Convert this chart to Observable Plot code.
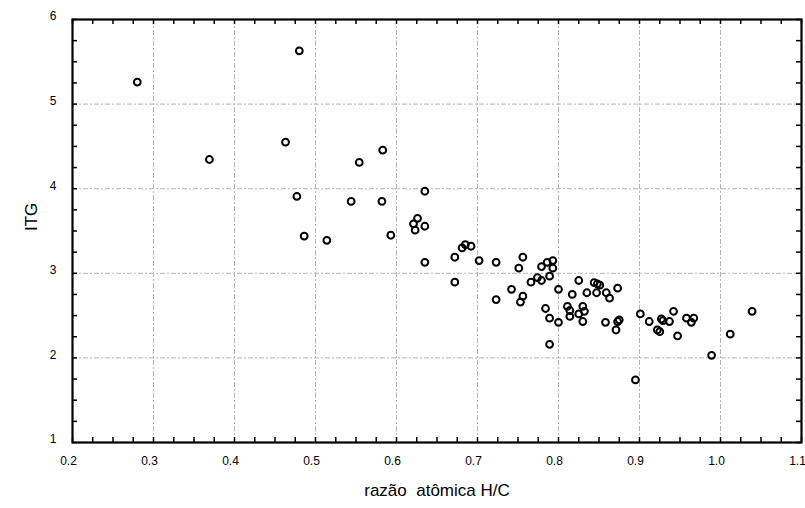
<!DOCTYPE html>
<html>
<head>
<meta charset="utf-8">
<script src="https://cdn.jsdelivr.net/npm/d3@7"></script>
<script src="https://cdn.jsdelivr.net/npm/@observablehq/plot@0.6"></script>
<style>
  html, body { margin: 0; padding: 0; background: #fff; }
  svg text { white-space: pre; }
</style>
</head>
<body>
<div id="chart"></div>
<script>
// H/C atomic ratio (x) and ITG (y)
const hc = [
  0.280, 0.480, 0.463, 0.369, 0.477, 0.486, 0.583, 0.554, 0.635, 0.544,
  0.582, 0.626, 0.621, 0.623, 0.635, 0.593, 0.514, 0.635, 0.672, 0.681,
  0.685, 0.692, 0.702, 0.723, 0.756, 0.751, 0.672, 0.723, 0.742, 0.756,
  0.753, 0.766, 0.774, 0.779, 0.779, 0.786, 0.793, 0.793, 0.789, 0.800,
  0.784, 0.789, 0.800, 0.789, 0.825, 0.844, 0.848, 0.851, 0.817, 0.835,
  0.847, 0.859, 0.863, 0.873, 0.811, 0.814, 0.814, 0.825, 0.830, 0.832,
  0.830, 0.858, 0.871, 0.873, 0.875, 0.895, 0.901, 0.912, 0.922, 0.925,
  0.927, 0.929, 0.937, 0.942, 0.947, 0.958, 0.964, 0.967, 0.989, 1.012,
  1.039
];
const itg = [
  5.26, 5.63, 4.55, 4.345, 3.91, 3.44, 4.455, 4.31, 3.97, 3.85,
  3.85, 3.65, 3.585, 3.51, 3.556, 3.45, 3.39, 3.13, 3.19, 3.30,
  3.34, 3.32, 3.15, 3.13, 3.19, 3.06, 2.895, 2.69, 2.81, 2.73,
  2.66, 2.895, 2.95, 2.915, 3.08, 3.13, 3.15, 3.06, 2.966, 2.81,
  2.584, 2.47, 2.42, 2.16, 2.915, 2.89, 2.876, 2.86, 2.75, 2.77,
  2.77, 2.77, 2.706, 2.824, 2.61, 2.56, 2.49, 2.52, 2.61, 2.55,
  2.43, 2.42, 2.33, 2.43, 2.45, 1.74, 2.52, 2.43, 2.33, 2.31,
  2.46, 2.44, 2.43, 2.55, 2.26, 2.47, 2.42, 2.47, 2.03, 2.28,
  2.55
];
const xTicks = [0.2, 0.3, 0.4, 0.5, 0.6, 0.7, 0.8, 0.9, 1.0, 1.1];
const yTicks = [1, 2, 3, 4, 5, 6];
const xMinorTicks = d3.range(0, 37).map(i => +(0.2 + i * 0.025).toFixed(3));
const yMinorTicks = d3.range(0, 21).map(i => 1 + i * 0.25);
const xLabel = "razão  atômica H/C";
const yLabel = "ITG";

const points = hc.map((x, i) => ({x, y: itg[i]}));

const width = 805, height = 508;
const mt = 19, mb = 66, ml = 72, mr = 4;
const innerH = height - mt - mb;
const innerW = width - ml - mr;
const tick = 5;
const gridStyle = {stroke: "#b4b4b4", strokeWidth: 1, strokeDasharray: "5,2,2,2", strokeOpacity: 1};

const chart = Plot.plot({
  width, height,
  marginTop: mt, marginBottom: mb, marginLeft: ml, marginRight: mr,
  style: {fontFamily: "'Liberation Sans', Arial, sans-serif", fontSize: "12px", color: "#000", background: "#fff"},
  x: {domain: [0.2, 1.1]},
  y: {domain: [1, 6]},
  marks: [
    Plot.ruleX(xTicks.slice(1, -1), {...gridStyle}),
    Plot.ruleY(yTicks.slice(1, -1), {...gridStyle}),
    // inward ticks
    Plot.ruleX(xMinorTicks, {stroke: "#000", strokeWidth: 1.5, insetTop: innerH - tick}),
    Plot.ruleX(xMinorTicks, {stroke: "#000", strokeWidth: 1.5, insetBottom: innerH - tick}),
    Plot.ruleY(yMinorTicks, {stroke: "#000", strokeWidth: 1.5, insetRight: innerW - tick}),
    Plot.ruleY(yMinorTicks, {stroke: "#000", strokeWidth: 1.5, insetLeft: innerW - tick}),
    Plot.frame({stroke: "#000", strokeWidth: 2.2}),
    Plot.axisX(xTicks, {anchor: "bottom", tickSize: 0, tickPadding: 14, dx: -4, tickFormat: d => d.toFixed(1), label: null, fontSize: 12}),
    Plot.axisY(yTicks, {anchor: "left", tickSize: 0, tickPadding: 16, dy: -3, tickFormat: d => String(d), label: null, fontSize: 12}),
    Plot.dot(points, {x: "x", y: "y", r: 3.4, stroke: "#000", strokeWidth: 2, fill: "none"}),
    Plot.text([xLabel], {text: d => d, frameAnchor: "bottom", dy: 53, fontSize: 17, fill: "#000"}),
    Plot.text([yLabel], {text: d => d, frameAnchor: "left", dx: -41, rotate: -90, fontSize: 17, fill: "#000"})
  ]
});
document.getElementById("chart").appendChild(chart);
</script>
</body>
</html>
